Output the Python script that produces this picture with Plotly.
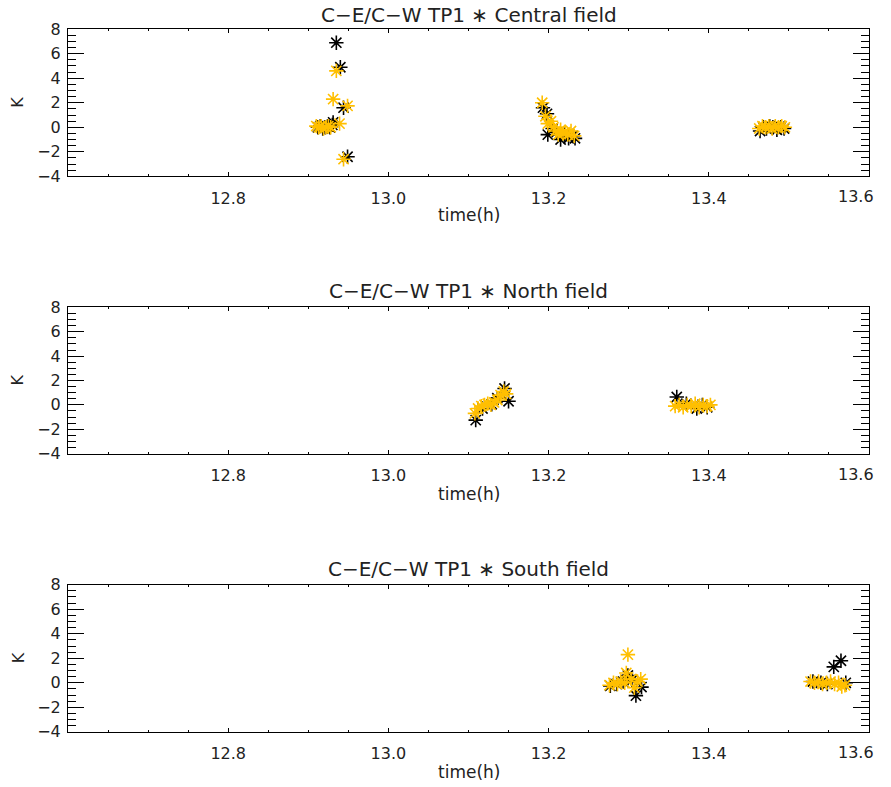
import plotly.graph_objects as go

# ---------------- data ----------------
titles = ["C−E/C−W TP1 ∗ Central field",
          "C−E/C−W TP1 ∗ North field",
          "C−E/C−W TP1 ∗ South field"]

# Central field
c_black_t = [12.912, 12.915, 12.918, 12.921, 12.924, 12.927, 12.930, 12.931, 12.935, 12.940, 12.944, 12.949,
             13.193, 13.198, 13.199, 13.205, 13.210, 13.215, 13.220, 13.225, 13.230, 13.233,
             13.464, 13.468, 13.472, 13.476, 13.480, 13.485, 13.490, 13.494]
c_black_k = [0.0, 0.1, -0.1, 0.0, 0.1, 0.0, 0.2, 0.4, 6.9, 4.9, 1.6, -2.4,
             1.6, 1.1, -0.6, -0.1, -0.4, -1.0, -0.6, -0.9, -0.7, -0.9,
             -0.3, 0.0, -0.1, 0.1, 0.0, -0.2, 0.0, -0.1]
c_orange_t = [12.910, 12.913, 12.916, 12.919, 12.922, 12.925, 12.928, 12.931, 12.935, 12.939, 12.944, 12.949,
              13.192, 13.196, 13.199, 13.203, 13.206, 13.209, 13.212, 13.215, 13.218, 13.221, 13.224, 13.228, 13.232,
              13.463, 13.467, 13.471, 13.475, 13.479, 13.483, 13.487, 13.491, 13.495]
c_orange_k = [0.1, 0.0, 0.1, -0.1, 0.0, 0.1, 0.0, 2.3, 4.6, 0.3, -2.6, 1.75,
              2.0, 0.9, 0.3, 0.5, 0.0, -0.3, -0.6, -0.2, -0.5, -0.4, -0.6, -0.3, -0.7,
              -0.1, 0.1, 0.0, 0.1, -0.1, 0.1, 0.0, 0.1, 0.0]

# North field
n_black_t = [13.109, 13.1175, 13.129, 13.136, 13.145, 13.150,
             13.360, 13.372, 13.385, 13.392, 13.398]
n_black_k = [-1.25, -0.3, 0.05, 0.55, 1.35, 0.3,
             0.65, 0.1, -0.3, 0.0, -0.2]
n_orange_t = [13.108, 13.112, 13.116, 13.120, 13.124, 13.128, 13.132, 13.136, 13.140, 13.144, 13.147,
              13.358, 13.363, 13.368, 13.373, 13.378, 13.383, 13.388, 13.393, 13.398, 13.402]
n_orange_k = [-0.7, -0.3, -0.1, 0.0, 0.1, 0.0, 0.2, 0.4, 0.8, 1.1, 0.9,
              -0.1, 0.0, -0.2, 0.0, -0.1, 0.1, -0.2, 0.0, -0.1, 0.0]

# South field
s_black_t = [13.277, 13.285, 13.293, 13.299, 13.304, 13.309, 13.316,
             13.530, 13.540, 13.548, 13.556, 13.565, 13.571]
s_black_k = [-0.25, -0.1, 0.1, 0.6, 0.2, -1.05, -0.35,
             0.1, 0.0, -0.1, 1.3, 1.8, 0.0]
s_orange_t = [13.276, 13.281, 13.286, 13.290, 13.295, 13.297, 13.299, 13.303, 13.307, 13.311, 13.315,
              13.527, 13.532, 13.537, 13.542, 13.547, 13.552, 13.557, 13.562, 13.566, 13.570]
s_orange_k = [-0.2, 0.0, -0.1, 0.1, 0.0, 0.8, 2.3, 0.3, -0.4, 0.1, 0.3,
              0.1, 0.0, 0.1, -0.1, 0.0, 0.1, -0.1, 0.0, -0.3, -0.2]

x_tickvals = [12.6, 12.8, 13.0, 13.2, 13.4, 13.6]
x_ticktext = ["", "12.8", "13.0", "13.2", "13.4", ""]
last_x_label = "13.6"
y_tickvals = [-4, -2, 0, 2, 4, 6, 8]

panels = [
    (c_black_t, c_black_k, c_orange_t, c_orange_k),
    (n_black_t, n_black_k, n_orange_t, n_orange_k),
    (s_black_t, s_black_k, s_orange_t, s_orange_k),
]

# ---------------- layout geometry ----------------
W, H = 876, 787


def fy(p):
    # target screen y pixel -> figure y pixel
    return (p - 8.8) / 0.975


x0, x1 = 68, 869
tops = [fy(29), fy(307), fy(584)]
bottoms = [fy(176), fy(453), fy(731)]
title_y = [6, fy(291), fy(568)]
xlab_y = [fy(215), fy(493), fy(771)]
tick_y = [fy(196), fy(474), fy(752)]
BLACK = "#000000"
ORANGE = "#FFBF00"
FONT = "DejaVu Sans"
TXT = "#222222"

fig = go.Figure()
annotations = []
for i, (bt, bk, ot, ok) in enumerate(panels):
    xa = "x" if i == 0 else f"x{i+1}"
    ya = "y" if i == 0 else f"y{i+1}"
    for t, k, col in ((bt, bk, BLACK), (ot, ok, ORANGE)):
        fig.add_trace(go.Scatter(
            x=t, y=k, xaxis=xa, yaxis=ya, mode="markers",
            marker=dict(symbol="asterisk-open", size=12, color=col,
                        line=dict(color=col, width=1.6)),
            showlegend=False, hoverinfo="skip"))
    dom_y = [1 - bottoms[i] / H, 1 - tops[i] / H]
    xkey = "xaxis" if i == 0 else f"xaxis{i+1}"
    ykey = "yaxis" if i == 0 else f"yaxis{i+1}"
    fig.layout[xkey] = dict(
        domain=[x0 / W, x1 / W], range=[12.6, 13.6], anchor=ya,
        tickvals=x_tickvals, ticktext=x_ticktext, ticks="inside", ticklen=4,
        tickwidth=1, tickcolor="black", ticklabelstandoff=7,
        minor=dict(tickvals=[12.6 + 0.05 * j for j in range(21)], ticks="inside",
                   ticklen=2, tickcolor="black"),
        showline=True, linecolor="black", linewidth=1, mirror="ticks",
        showgrid=False, zeroline=False,
        tickfont=dict(family=FONT, size=16, color=TXT))
    fig.layout[ykey] = dict(
        domain=dom_y, range=[-4, 8], anchor=xa,
        tickvals=y_tickvals, ticks="inside", ticklen=16, tickwidth=1, tickcolor="black",
        ticklabelstandoff=3,
        minor=dict(dtick=0.5, tick0=0, ticks="inside", ticklen=8, tickcolor="black"),
        showline=True, linecolor="black", linewidth=1, mirror="ticks",
        showgrid=False, zeroline=False,
        tickfont=dict(family=FONT, size=16, color=TXT))
    # last x tick label, kept inside the page
    annotations.append(dict(text=last_x_label, x=1.0, y=1 - tick_y[i] / H,
                            xref="paper", yref="paper", showarrow=False,
                            xanchor="right", yanchor="middle",
                            font=dict(family=FONT, size=16, color=TXT)))
    # title
    annotations.append(dict(text=titles[i], x=(x0 + x1) / 2 / W, y=1 - title_y[i] / H,
                            xref="paper", yref="paper", showarrow=False,
                            xanchor="center", yanchor="middle",
                            font=dict(family=FONT, size=20, color=TXT)))
    # x title
    annotations.append(dict(text="time(h)", x=(x0 + x1) / 2 / W, y=1 - xlab_y[i] / H,
                            xref="paper", yref="paper", showarrow=False,
                            xanchor="center", yanchor="middle",
                            font=dict(family=FONT, size=17, color=TXT)))
    # y title
    annotations.append(dict(text="K", x=18 / W, y=1 - ((tops[i] + bottoms[i]) / 2) / H,
                            xref="paper", yref="paper", showarrow=False, textangle=-90,
                            xanchor="center", yanchor="middle",
                            font=dict(family=FONT, size=16, color=TXT)))

fig.update_layout(width=W, height=H, margin=dict(l=0, r=0, t=0, b=0),
                  paper_bgcolor="white", plot_bgcolor="white",
                  annotations=annotations)
fig.write_html("out.html")
